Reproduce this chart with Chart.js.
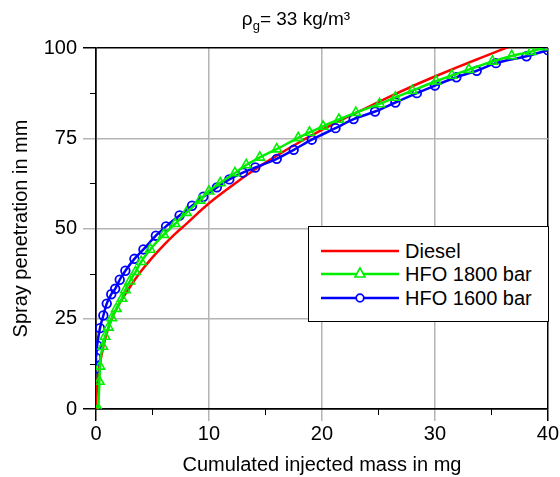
<!DOCTYPE html>
<html>
<head>
<meta charset="utf-8">
<script src="https://cdn.jsdelivr.net/npm/chart.js@4"></script>
<style>
html,body{margin:0;padding:0;background:#fff;}
#wrap{position:relative;width:560px;height:477px;font-family:"Liberation Sans",Arial,sans-serif;color:#000;}
#c{position:absolute;left:0;top:0;}
#title{position:absolute;left:96px;width:400px;top:8px;text-align:center;font-size:19px;line-height:22px;}
#title sub{font-size:13px;vertical-align:-5px;line-height:0;}
#legend{position:absolute;left:308px;top:226px;width:241px;height:96px;border:1px solid #000;background:#fff;box-sizing:border-box;}
.row{position:absolute;left:11px;height:24px;font-size:20px;line-height:24px;white-space:nowrap;}
.row svg{position:absolute;left:0;top:0;}
.row span{position:absolute;left:85px;top:0;}
</style>
</head>
<body>
<div id="wrap">
<canvas id="c" width="560" height="477"></canvas>
<div id="title">ρ<sub>g</sub>= 33 kg/m³</div>
<div id="legend">
  <div class="row" style="top:12px"><svg width="80" height="24"><line x1="1" y1="12" x2="79" y2="12" stroke="#ff0000" stroke-width="2.5"/></svg><span>Diesel</span></div>
  <div class="row" style="top:35px"><svg width="80" height="24"><line x1="1" y1="12" x2="79" y2="12" stroke="#00ee00" stroke-width="2.5"/><polygon points="40,6 45,15 35,15" fill="#fff" stroke="#00ee00" stroke-width="1.6"/></svg><span>HFO 1800 bar</span></div>
  <div class="row" style="top:59px"><svg width="80" height="24"><line x1="1" y1="12" x2="79" y2="12" stroke="#0000ff" stroke-width="2.5"/><circle cx="40" cy="12" r="3.8" fill="#fff" stroke="#0000ff" stroke-width="1.8"/></svg><span>HFO 1600 bar</span></div>
</div>
</div>
<script>
// Data
const dieselX = [0, 0.05, 0.15, 0.3, 0.5, 0.7, 1.0, 1.5, 2.0, 3.0, 4.0, 5.0, 6.0, 7.0, 8.0, 9.0, 10.0, 12.0, 14.0, 16.0, 18.0, 20.0, 22.0, 24.0, 26.0, 28.0, 30.0, 32.0, 34.0, 36.6];
const dieselY = [0, 4, 8, 11.8, 15, 18, 21.5, 25.8, 28.8, 33.8, 38.2, 42.0, 45.4, 48.5, 51.3, 54.2, 57.0, 61.8, 66.2, 70.2, 73.9, 77.3, 80.5, 83.5, 86.5, 89.4, 92.1, 94.7, 97.2, 100.4];

const hfo1800X = [0.2, 0.3, 0.35, 0.6, 0.8, 1.1, 1.4, 1.8, 2.3, 2.6, 3.0, 3.5, 4.0, 4.8, 6.0, 7.0, 8.0, 9.2, 10.0, 11.0, 12.3, 13.3, 14.5, 16.0, 17.9, 18.9, 20.1, 21.5, 23.0, 25.1, 26.5, 28.0, 30.1, 31.5, 33.0, 35.1, 36.8, 38.5, 39.7];
const hfo1800Y = [0, 7.6, 11.8, 17.3, 20.1, 22.6, 25.2, 27.8, 30.6, 33.0, 35.4, 38.0, 40.8, 44.2, 48.3, 51.3, 54.4, 57.8, 60.3, 62.6, 65.4, 67.6, 69.7, 72.0, 75.1, 76.6, 78.3, 80.2, 82.1, 84.5, 86.3, 88.2, 90.8, 92.4, 94.0, 96.3, 97.8, 99.0, 100.3];

const hfo1600X = [0.0, 0.0, 0.1, 0.35, 0.65, 0.95, 1.35, 1.7, 2.1, 2.6, 3.4, 4.2, 5.3, 6.2, 7.4, 8.5, 9.5, 10.7, 11.8, 13.0, 14.1, 16.0, 17.5, 19.1, 21.2, 22.8, 24.7, 26.5, 28.4, 30.0, 31.9, 33.7, 35.4, 38.1, 40.0];
const hfo1600Y = [11.2, 14.2, 17.6, 22.4, 25.9, 29.2, 31.8, 33.3, 35.8, 38.3, 41.6, 44.2, 48.0, 50.6, 53.6, 56.3, 58.8, 61.4, 63.6, 65.5, 66.9, 69.3, 71.8, 74.6, 77.8, 80.3, 82.4, 84.9, 87.5, 89.6, 91.9, 93.7, 95.8, 97.7, 99.4];

const xTicks = [0, 10, 20, 30, 40];
const yTicks = [0, 25, 50, 75, 100];
const xMinor = [5, 15, 25, 35];
const yMinor = [12.5, 37.5, 62.5, 87.5];

const pts = (xs, ys) => xs.map((x, i) => ({x: x, y: ys[i]}));

const FONT = '"Liberation Sans", Arial, sans-serif';

const minorTicks = {
  id: 'minorTicks',
  afterDraw(chart) {
    const {ctx, scales: {x, y}} = chart;
    ctx.save();
    ctx.strokeStyle = '#000';
    ctx.lineWidth = 1;
    ctx.beginPath();
    xMinor.forEach(v => {
      const px = Math.round(x.getPixelForValue(v)) + 0.5;
      ctx.moveTo(px, x.top); ctx.lineTo(px, x.top + 6);
    });
    yMinor.forEach(v => {
      const py = Math.round(y.getPixelForValue(v)) + 0.5;
      ctx.moveTo(y.right, py); ctx.lineTo(y.right - 6, py);
    });
    ctx.stroke();
    ctx.restore();
  }
};

new Chart(document.getElementById('c'), {
  type: 'line',
  data: {
    datasets: [
      {label: 'Diesel', data: pts(dieselX, dieselY), borderColor: '#ff0000', borderWidth: 2.5,
       pointRadius: 0, cubicInterpolationMode: 'monotone', order: 3},
      {label: 'HFO 1800 bar', data: pts(hfo1800X, hfo1800Y), borderColor: '#00ee00', borderWidth: 2.5,
       pointStyle: 'triangle', pointRadius: 5.5, pointBorderWidth: 1.6, pointBackgroundColor: 'rgba(0,0,0,0)',
       pointBorderColor: '#00ee00', cubicInterpolationMode: 'monotone', order: 1},
      {label: 'HFO 1600 bar', data: pts(hfo1600X, hfo1600Y), borderColor: '#0000ff', borderWidth: 2.5,
       pointStyle: 'circle', pointRadius: 4.3, pointBorderWidth: 1.8, pointBackgroundColor: 'rgba(0,0,0,0)',
       pointBorderColor: '#0000ff', cubicInterpolationMode: 'monotone', order: 2}
    ]
  },
  options: {
    responsive: false,
    animation: false,
    layout: {padding: {top: 48, right: 11, left: 0, bottom: 0}},
    plugins: {legend: {display: false}, tooltip: {enabled: false}},
    scales: {
      x: {
        type: 'linear', min: 0, max: 40,
        afterFit: s => { s.height = 68; },
        afterBuildTicks: s => { s.ticks = xTicks.map(v => ({value: v})); },
        ticks: {color: '#000', font: {family: FONT, size: 20}, padding: 1, maxRotation: 0},
        grid: {color: c => (c.tick && (c.tick.value === 0 || c.tick.value === 40)) ? '#000' : '#b4b4b4',
               lineWidth: 1.5, tickLength: 12},
        border: {color: '#000', width: 1.5},
        title: {display: true, text: 'Cumulated injected mass in mg', color: '#000',
                font: {family: FONT, size: 20}, padding: {top: 0, bottom: 0}}
      },
      y: {
        type: 'linear', min: 0, max: 100,
        afterFit: s => { s.width = 96; },
        afterBuildTicks: s => { s.ticks = yTicks.map(v => ({value: v})); },
        ticks: {color: '#000', font: {family: FONT, size: 20}, padding: 6},
        grid: {color: c => (c.tick && (c.tick.value === 0 || c.tick.value === 100)) ? '#000' : '#b4b4b4',
               lineWidth: 1.5, tickLength: 13},
        border: {color: '#000', width: 1.5},
        title: {display: true, text: 'Spray penetration in mm', color: '#000',
                font: {family: FONT, size: 20}, padding: {top: 9, bottom: 0}}
      }
    }
  },
  plugins: [minorTicks]
});
</script>
</body>
</html>
